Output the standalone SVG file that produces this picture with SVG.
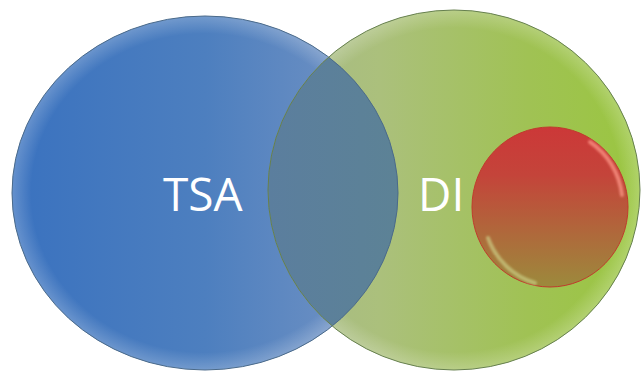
<svg xmlns="http://www.w3.org/2000/svg" width="643" height="372" viewBox="0 0 643 372">
<defs>
<linearGradient id="gBlue" x1="0" y1="0" x2="1" y2="0">
<stop offset="0" stop-color="#3a72bf"/>
<stop offset="0.5" stop-color="#4d7fbf"/>
<stop offset="1" stop-color="#7896c4"/>
</linearGradient>
<linearGradient id="gGreen" x1="0" y1="0" x2="1" y2="0">
<stop offset="0" stop-color="#a6b988"/>
<stop offset="0.3" stop-color="#abc07c"/>
<stop offset="0.7" stop-color="#a0c254"/>
<stop offset="1" stop-color="#9ac640"/>
</linearGradient>
<linearGradient id="gOver" x1="0" y1="0" x2="1" y2="0">
<stop offset="0" stop-color="#5b7e9e"/>
<stop offset="1" stop-color="#5f8a86"/>
</linearGradient>
<linearGradient id="gRed" x1="0" y1="0" x2="0" y2="1">
<stop offset="0" stop-color="#cc3838"/>
<stop offset="0.3" stop-color="#c4443a"/>
<stop offset="1" stop-color="#9c8a3c"/>
</linearGradient>
<radialGradient id="gTop" cx="0.5" cy="0.5" r="0.5">
<stop offset="0.9" stop-color="#fff" stop-opacity="0"/>
<stop offset="1" stop-color="#fff" stop-opacity="0.22"/>
</radialGradient>
<clipPath id="cBlue">
<ellipse cx="205" cy="193" rx="193" ry="177"/>
</clipPath>
<filter id="soft" x="-20%" y="-20%" width="140%" height="140%">
<feGaussianBlur stdDeviation="1.2"/>
</filter>
</defs>
<style>
.lbl{font-family:"Open Sans","Noto Sans","Liberation Sans",sans-serif;font-size:46px;fill:#ffffff}
.rim{fill:none;stroke-width:1}
.hl{fill:none;stroke-width:4;stroke-linecap:round;filter:url(#soft)}
</style>
<g id="tsa">
<ellipse cx="205" cy="193" rx="193" ry="177" fill="url(#gBlue)"/>
<ellipse cx="205" cy="193" rx="193" ry="177" fill="url(#gTop)"/>
</g>
<g id="di">
<ellipse cx="454" cy="190" rx="186" ry="180" fill="url(#gGreen)"/>
<ellipse cx="454" cy="190" rx="186" ry="180" fill="url(#gTop)"/>
</g>
<g id="overlap">
<ellipse cx="454" cy="190" rx="186" ry="180" fill="url(#gOver)" clip-path="url(#cBlue)"/>
<ellipse cx="205" cy="193" rx="193" ry="177" class="rim" stroke="#4a6a8a"/>
<ellipse cx="454" cy="190" rx="186" ry="180" class="rim" stroke="#66804e"/>
</g>
<g id="red">
<ellipse cx="550" cy="207" rx="78" ry="80" fill="url(#gRed)" stroke="#c03a2c" stroke-width="1"/>
<path d="M 590 142 A 72 74 0 0 1 622 195" class="hl" stroke="#ff9a8a" stroke-opacity="0.7"/>
<path d="M 488 238 A 72 74 0 0 0 535 283" class="hl" stroke="#d0d890" stroke-opacity="0.6"/>
</g>
<g id="labels">
<text class="lbl" x="163" y="211">TSA</text>
<text class="lbl" x="418" y="211">DI</text>
</g>
<g id="connectors"/>
</svg>
